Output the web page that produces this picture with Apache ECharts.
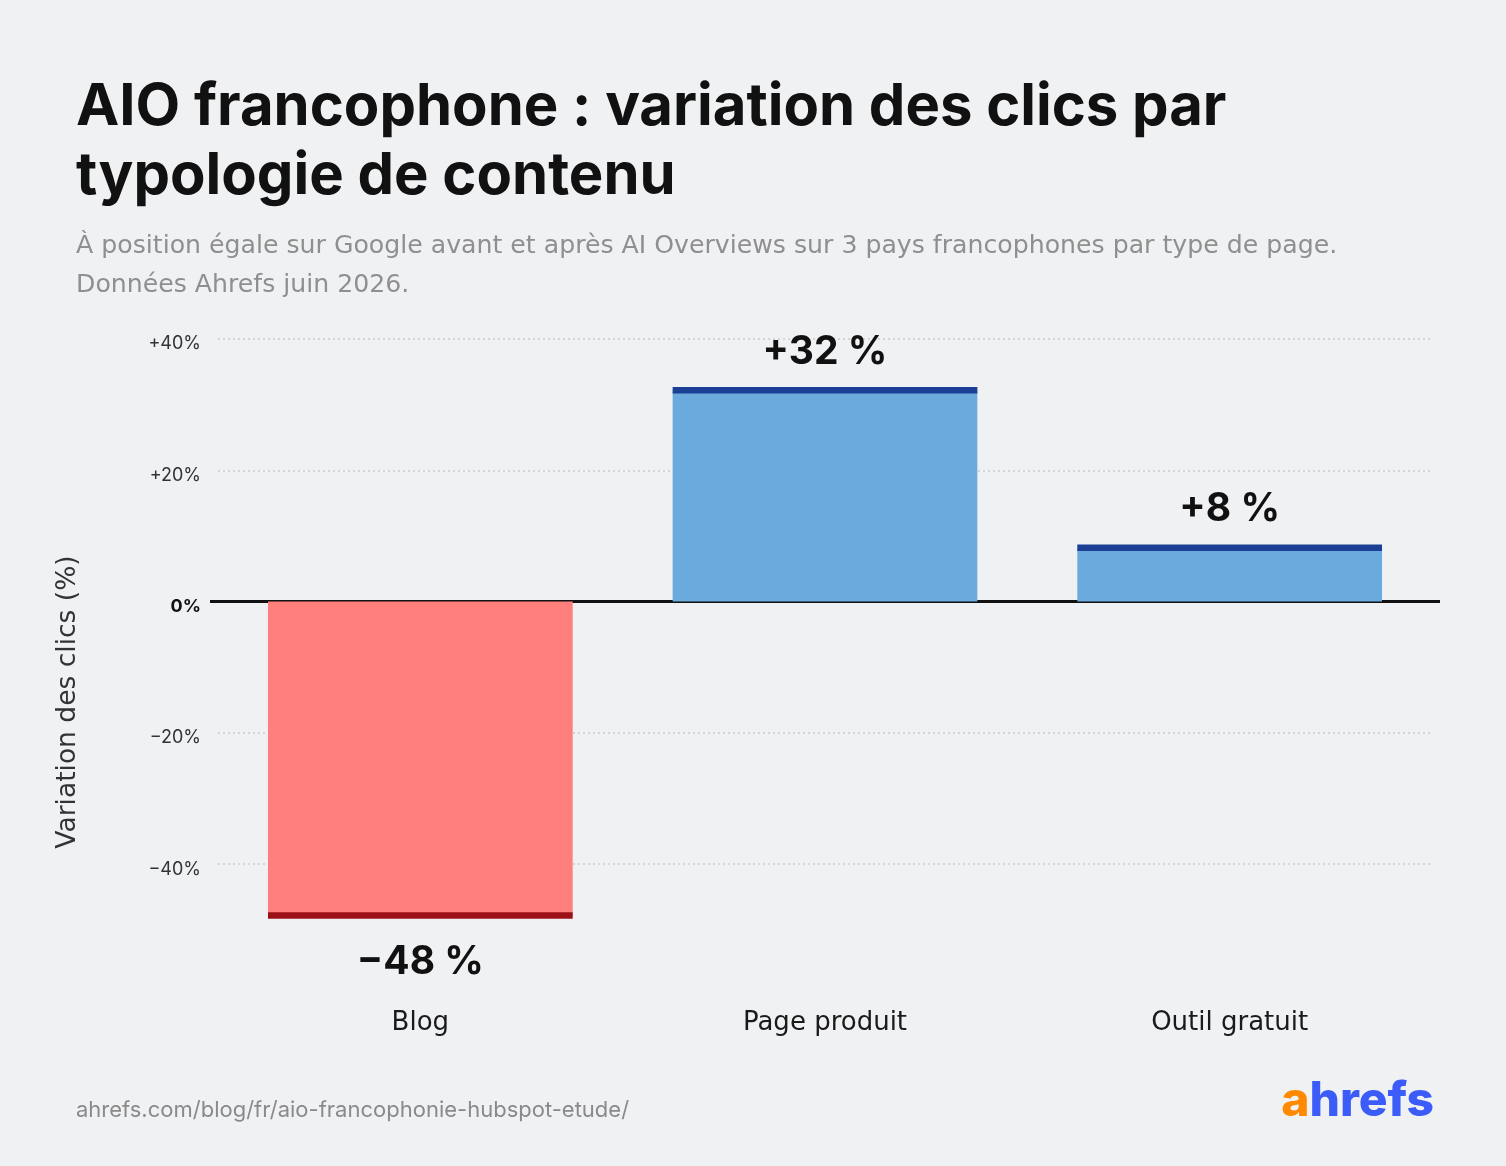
<!DOCTYPE html>
<html>
<head>
<meta charset="utf-8">
<script src="https://cdn.jsdelivr.net/npm/echarts@6/dist/echarts.min.js"></script>
<style>
  html, body { margin: 0; padding: 0; background: #f0f1f3; }
  #chart { width: 1506px; height: 1166px; }
</style>
</head>
<body>
<div id="chart"></div>
<script>
// ---- Data ----
const categories = ['Blog', 'Page produit', 'Outil gratuit'];
const values = [-48, 32, 8];
const valueLabels = ['−48 %', '+32 %', '+8 %'];
const yTicks = [-40, -20, 0, 20, 40];
const yTickLabels = ['−40%', '−20%', '0%', '+20%', '+40%'];

const titleText = 'AIO francophone : variation des clics par\ntypologie de contenu';
const subtitleText = 'À position égale sur Google avant et après AI Overviews sur 3 pays francophones par type de page.\nDonnées Ahrefs juin 2026.';
const yAxisTitle = 'Variation des clics (%)';
const sourceText = 'ahrefs.com/blog/fr/aio-francophonie-hubspot-etude/';

// ---- Styles ----
const FONT = 'Inter, "Noto Sans", sans-serif';
const WIDE = '"DejaVu Sans", Inter, sans-serif';
const POS = '#6aaadc', POS_EDGE = '#1b3f94';
const NEG = '#ff7f7c', NEG_EDGE = '#9c1118';
const BAR_FRAC = 0.753;

const chart = echarts.init(document.getElementById('chart'), null, { renderer: 'canvas' });

const option = {
  backgroundColor: '#f0f1f3',
  animation: false,
  title: [
    { text: titleText, left: 71, top: 68,
      textStyle: { fontFamily: FONT, fontSize: 58, fontWeight: 700, color: '#111', lineHeight: 69 } },
    { text: subtitleText, left: 71, top: 222,
      textStyle: { fontFamily: WIDE, fontSize: 25.2, fontWeight: 400, color: '#8f8f8f', lineHeight: 39 } },
    { text: sourceText, left: 71, top: 1094,
      textStyle: { fontFamily: FONT, fontSize: 22, fontWeight: 400, color: '#8a8a8a' } }
  ],
  grid: { left: 218, right: 74, top: 339, bottom: 170.5, containLabel: false },
  xAxis: {
    type: 'category',
    data: categories,
    axisLine: { show: false },
    axisTick: { show: false },
    axisLabel: { fontFamily: WIDE, fontSize: 26, color: '#1a1a1a', margin: 15 }
  },
  yAxis: {
    type: 'value',
    min: -60, max: 40, interval: 20,
    axisLine: { show: false },
    axisTick: { show: false, customValues: yTicks },
    axisLabel: {
      customValues: yTicks,
      margin: 17,
      padding: [10, 0, 0, 0],
      fontFamily: FONT, fontSize: 18, color: '#333',
      formatter: v => {
        const i = yTicks.indexOf(v);
        const t = i >= 0 ? yTickLabels[i] : '';
        return v === 0 ? '{z|' + t + '}' : t;
      },
      rich: { z: { fontFamily: FONT, fontSize: 18, fontWeight: 700, color: '#111' } }
    },
    splitLine: { show: true, lineStyle: { color: '#c9cbce', width: 1.5, type: [2, 3] } }
  },
  series: [
    {
      type: 'bar',
      z: 2,
      barWidth: (BAR_FRAC * 100) + '%',
      data: values.map((v, i) => ({
        value: v,
        itemStyle: { color: v < 0 ? NEG : POS },
        label: {
          show: true,
          position: v < 0 ? 'bottom' : 'top',
          distance: v < 0 ? 26 : 20,
          formatter: () => valueLabels[i],
          fontFamily: FONT, fontSize: 39, fontWeight: 700, color: '#111'
        }
      }))
    },
    {
      type: 'custom',
      z: 3,
      data: values.map((v, i) => [i, v]),
      encode: { x: 0, y: 1 },
      renderItem: (params, api) => {
        const idx = api.value(0), v = api.value(1);
        const end = api.coord([idx, v]);
        const w = api.size([1, 0])[0] * BAR_FRAC;
        const h = 6.5;
        return {
          type: 'rect',
          shape: { x: end[0] - w / 2, y: end[1] - h + 2, width: w, height: h },
          style: { fill: v >= 0 ? POS_EDGE : NEG_EDGE }
        };
      }
    }
  ]
};
chart.setOption(option);

// zero baseline (slightly wider than the plot) + axis title + logo
const y0 = chart.convertToPixel({ yAxisIndex: 0 }, 0);
chart.setOption({
  graphic: [
    { type: 'line', z: 1, shape: { x1: 210, y1: y0, x2: 1440, y2: y0 },
      style: { stroke: '#111', lineWidth: 3 } },
    { type: 'text', x: 68, y: 702, rotation: Math.PI / 2,
      style: { text: yAxisTitle, fontFamily: WIDE, fontSize: 26.5, fill: '#333',
               align: 'center', verticalAlign: 'middle' } },
    { type: 'text', right: 72, top: 1078,
      style: {
        text: '{a|a}{b|hrefs}',
        rich: {
          a: { fontFamily: FONT, fontSize: 48, fontWeight: 800, fill: '#ff8a00', color: '#ff8a00' },
          b: { fontFamily: FONT, fontSize: 48, fontWeight: 800, fill: '#3c5cfa', color: '#3c5cfa' }
        }
      } }
  ]
});
</script>
</body>
</html>
